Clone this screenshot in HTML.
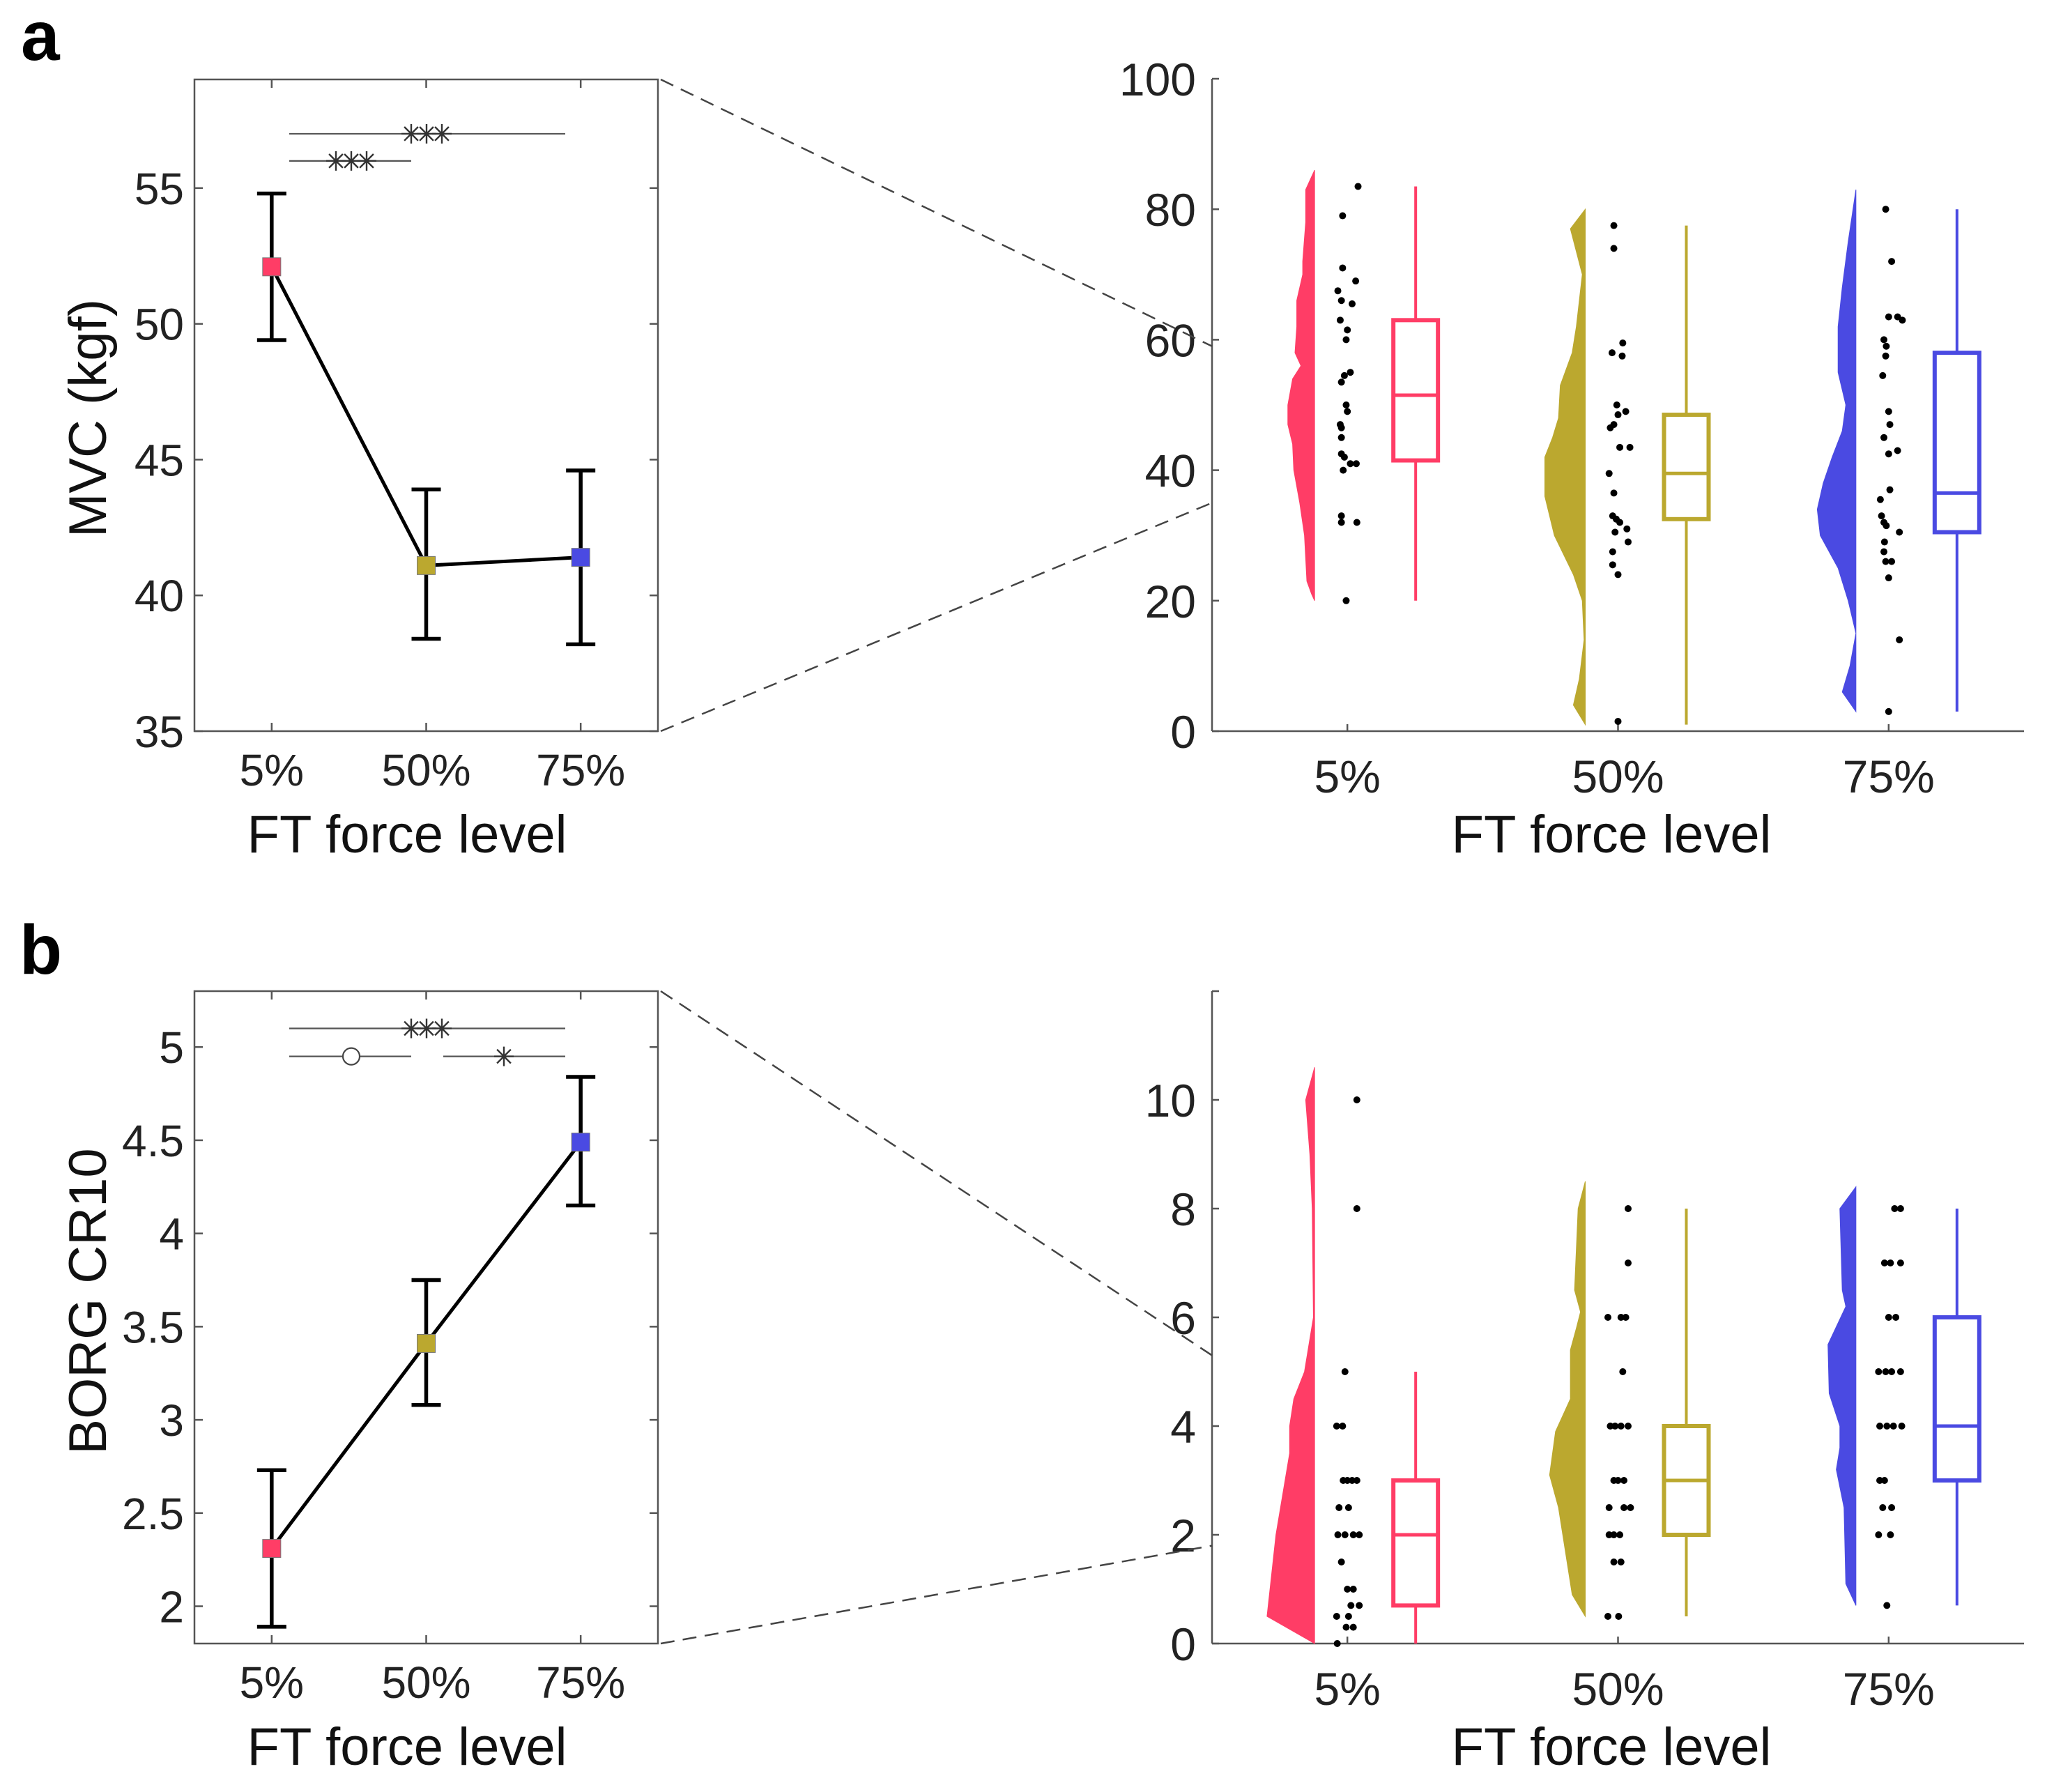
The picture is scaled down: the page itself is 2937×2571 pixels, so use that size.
<!DOCTYPE html>
<html><head><meta charset="utf-8"><style>
html,body{margin:0;padding:0;background:#fff;}
svg{display:block;font-family:"Liberation Sans",Arial,sans-serif;}
</style></head><body>
<svg id="fig" width="2937" height="2571" viewBox="0 0 2937 2571" xmlns="http://www.w3.org/2000/svg"></svg>
<script>
// ---------- data ----------
const categories = ["5%","50%","75%"];
const colors = ["#FF3D66","#BBA82F","#4A4AE2"];
const mvcMean = [52.1, 41.1, 41.4];
const mvcLow = [49.4, 38.4, 38.2];
const mvcHigh = [54.8, 43.9, 44.6];
const mvcTicks = [35,40,45,50,55];
const borgMean = [2.31, 3.41, 4.49];
const borgLow = [1.89, 3.08, 4.15];
const borgHigh = [2.73, 3.75, 4.84];
const borgTicks = [2,2.5,3,3.5,4,4.5,5];
const borgTickLabels = ["2","2.5","3","3.5","4","4.5","5"];
const mvcBox5 = [20, 41.5, 51.5, 63, 83.5];
const mvcBox50 = [1, 32.5, 39.5, 48.5, 77.5];
const mvcBox75 = [3, 30.5, 36.5, 58, 80];
const mvcRightTicks = [0,20,40,60,80,100];
const borgBox5 = [0, 0.7, 2, 3, 5];
const borgBox50 = [0.5, 2, 3, 4, 8];
const borgBox75 = [0.7, 3, 4, 6, 8];
const borgRightTicks = [0,2,4,6,8,10];
const mvcVioLev5 = [20,21,23,30,35,40,44,47,50,54,56,58,62,66,70,72,78,83,86];
const mvcVioDen5 = [0,5,13,17,25,35,37,45,45,37,23,33,30,30,20,20,15,15,0];
const mvcVioLev50 = [1,4,8,14,20,24,30,36,42,45,48,53,58,62,70,77,80];
const mvcVioDen50 = [0,20,10,2,5,20,52,68,68,55,45,42,22,15,5,25,0];
const mvcVioLev75 = [3,6,10,15,20,25,30,34,38,42,46,50,55,62,68,75,83];
const mvcVioDen75 = [0,23,10,0,13,30,60,65,55,40,23,17,30,30,23,13,0];
const borgVioLev5 = [0,0.5,2,3.5,4,4.5,5,5.8,6,7,8,9,10,10.6];
const borgVioDen5 = [0,80,65,42,42,35,17,5,2,3,4,8,15,0];
const borgVioLev50 = [0.5,0.9,2.5,3.1,3.5,3.9,4.5,5.4,5.8,6.1,6.5,8,8.5];
const borgVioDen50 = [0,22,45,60,55,50,25,25,15,8,18,12,0];
const borgVioLev75 = [0.7,1.1,2.5,3.2,3.6,4,4.6,5.5,6.2,6.5,8,8.4];
const borgVioDen75 = [0,17,20,33,27,27,45,47,17,23,27,0];
const mvcPts5 = [83.5,79,71,69,67.5,66,65.5,63,61.5,60,55,54.5,53.5,50,49,47,46.5,45,42.5,42,41,41,40,33,32,32,20];
const mvcJit5 = [18,-8,-8,14,-16,-10,8,-12,0,-2,5,-5,-10,-2,0,-12,-10,-10,-10,-5,5,15,-7,-10,-10,16,-2];
const mvcPts50 = [77.5,74,59.5,58,57.5,50,49,48.5,47,46.5,43.5,43.5,39.5,36.5,33,32.5,32,31,30.5,29,27.5,25.5,24,1.5];
const mvcJit50 = [-7,-7,8,-10,7,-2,13,0,-7,-13,3,20,-15,-7,-9,-3,3,15,-5,17,-9,-9,0,0];
const mvcPts75 = [80,72,63.5,63.5,63,60,59,57.5,54.5,49,47,45,43,42.5,37,35.5,33,32,31.5,30.5,29,27.5,26,26,23.5,14,3];
const mvcJit75 = [-5,5,0,15,23,-8,-4,-5,-10,0,2,-8,15,0,2,-14,-12,-8,-4,18,-7,-8,-5,5,0,18,0];
const borgPts5 = [10,8,5,4,4,3,3,3,3,2.5,2.5,2,2,2,2,1.5,1,1,0.7,0.7,0.5,0.5,0.3,0.3,0];
const borgJit5 = [16,16,-4,-18,-8,-7,0,8,16,-14,2,-16,-4,10,20,-10,0,10,6,20,-18,2,-2,10,-17];
const borgPts50 = [8,7,6,6,6,5,4,4,4,4,3,3,3,2.5,2.5,2.5,2,2,2,1.5,1.5,0.5,0.5];
const borgJit50 = [17,17,-17,5,13,8,-13,-5,5,17,-7,0,10,-15,10,21,-15,-7,3,-7,5,-17,1];
const borgPts75 = [8,8,7,7,7,6,6,5,5,5,5,4,4,4,4,3,3,2.5,2.5,2,2,0.7];
const borgJit75 = [10,20,-7,3,20,0,12,-17,-5,5,20,-15,-3,8,22,-15,-7,-10,5,-17,3,-3];

// ---------- drawing helpers ----------
const NS="http://www.w3.org/2000/svg";
const svg=document.getElementById('fig');
function el(tag,attrs,parent){const e=document.createElementNS(NS,tag);for(const k in attrs)e.setAttribute(k,attrs[k]);(parent||svg).appendChild(e);return e;}
function txt(s,x,y,size,anchor,parent,extra){const t=el('text',Object.assign({x:x,y:y,'font-size':size,'text-anchor':anchor||'middle',fill:'#222'},extra||{}),parent);t.textContent=s;return t;}
function asterisk(g,cx,cy,r){for(let k=0;k<4;k++){const a=k*Math.PI/4;el('line',{x1:cx-r*Math.cos(a),y1:cy-r*Math.sin(a),x2:cx+r*Math.cos(a),y2:cy+r*Math.sin(a),stroke:'#333','stroke-width':2.4},g);}}

function leftPanel(cfg){
  const g=el('g',{});
  
  
  const L=279,R=944,T=cfg.top,B=cfg.bottom;
  const sx=i=>L+(i+0.5)*(R-L)/3;
  const sy=v=>B-(v-cfg.ymin)*(B-T)/(cfg.ymax-cfg.ymin);
  const ax=el('g',{},g);
  
  
  el('rect',{x:L,y:T,width:R-L,height:B-T,fill:'none',stroke:'#555','stroke-width':2.5},ax);
  cfg.ticks.forEach((v,k)=>{const y=sy(v);
    el('line',{x1:L,y1:y,x2:L+12,y2:y,stroke:'#555','stroke-width':2.5},ax);
    el('line',{x1:R,y1:y,x2:R-12,y2:y,stroke:'#555','stroke-width':2.5},ax);
    const t=txt(cfg.tickLabels[k],264,y+23,64,'end',ax);
    
    });
  categories.forEach((c,i)=>{const x=sx(i);
    el('line',{x1:x,y1:B,x2:x,y2:B-12,stroke:'#555','stroke-width':2.5},ax);
    el('line',{x1:x,y1:T,x2:x,y2:T+12,stroke:'#555','stroke-width':2.5},ax);
    const t=txt(c,x,B+78,64,'middle',ax);
    
    });
  const xl=txt('FT force level',584,B+174,76,'middle',g,{fill:'#111'});
  
  
  const yl=txt(cfg.ylabel,0,0,76,'middle',g,{fill:'#111',transform:`translate(152,${cfg.ylabelY}) rotate(-90)`});
  
  
  const sg=el('g',{},g);
  
  
  cfg.sig(sg,sy);
  const pts=cfg.mean.map((m,i)=>sx(i)+','+sy(m)).join(' ');
  const ln=el('polyline',{points:pts,fill:'none',stroke:'#000','stroke-width':5},g);
  
  
  cfg.mean.forEach((m,i)=>{const x=sx(i);
    const eb=el('g',{},g);
    
    
    el('line',{x1:x,y1:sy(cfg.low[i]),x2:x,y2:sy(cfg.high[i]),stroke:'#000','stroke-width':5.5},eb);
    el('line',{x1:x-21,y1:sy(cfg.low[i]),x2:x+21,y2:sy(cfg.low[i]),stroke:'#000','stroke-width':5.5},eb);
    el('line',{x1:x-21,y1:sy(cfg.high[i]),x2:x+21,y2:sy(cfg.high[i]),stroke:'#000','stroke-width':5.5},eb);
    const mk=el('rect',{x:x-13,y:sy(m)-13,width:26,height:26,fill:colors[i],stroke:'#777','stroke-width':1},eb);
    
    });
  return {L,R,T,B,sy};
}

function rightPanel(cfg){
  const g=el('g',{});
  
  
  const L=1739,R=2904,T=cfg.top,B=cfg.bottom;
  const X=i=>L+(i+0.5)*(R-L)/3;
  const Y=v=>B-v*(B-T)/cfg.ymax;
  const ax=el('g',{},g);
  
  
  el('line',{x1:L,y1:T,x2:L,y2:B,stroke:'#555','stroke-width':2.5},ax);
  el('line',{x1:L,y1:B,x2:R,y2:B,stroke:'#555','stroke-width':2.5},ax);
  cfg.ticks.forEach(v=>{const y=Y(v);
    el('line',{x1:L,y1:y,x2:L+10,y2:y,stroke:'#555','stroke-width':2.5},ax);
    const t=txt(String(v),1716,y+24,66,'end',ax);
    
    });
  if(cfg.topTick) el('line',{x1:L,y1:T,x2:L+10,y2:T,stroke:'#555','stroke-width':2.5},ax);
  categories.forEach((c,i)=>{const x=X(i);
    el('line',{x1:x,y1:B,x2:x,y2:B-10,stroke:'#555','stroke-width':2.5},ax);
    const t=txt(c,x,B+88,66,'middle',ax);
    
    });
  const xl=txt('FT force level',2312,B+174,76,'middle',g,{fill:'#111'});
  
  
  const den=0.853;
  categories.forEach((c,i)=>{
    const base=X(i)-47, col=colors[i];
    const lev=cfg.vioLev[i], d=cfg.vioDen[i];
    let p='M'+base+','+Y(lev[0]);
    lev.forEach((v,k)=>{p+=' L'+(base-d[k]*den)+','+Y(v);});
    p+=' L'+base+','+Y(lev[lev.length-1])+' Z';
    const vi=el('path',{d:p,fill:col,stroke:col,'stroke-width':1},g);
    
    
    const dots=el('g',{},g);
    
    
    cfg.pts[i].forEach((v,k)=>{
      const dt=el('circle',{cx:X(i)+cfg.jit[i][k]*0.853,cy:Y(v),r:5,fill:'#000'},dots);
      
      });
    const b=cfg.box[i], bx=X(i)+98;
    const bg=el('g',{},g);
    
    
    el('line',{x1:bx,y1:Y(b[0]),x2:bx,y2:Y(b[1]),stroke:col,'stroke-width':4},bg);
    el('line',{x1:bx,y1:Y(b[3]),x2:bx,y2:Y(b[4]),stroke:col,'stroke-width':4},bg);
    el('rect',{x:bx-32,y:Y(b[3]),width:64,height:Y(b[1])-Y(b[3]),fill:'#fff',stroke:col,'stroke-width':6},bg);
    el('line',{x1:bx-32,y1:Y(b[2]),x2:bx+32,y2:Y(b[2]),stroke:col,'stroke-width':5},bg);
  });
  return {L,Y};
}

function zoomLines(lp,rp,v1,v2,name){
  const g=el('g',{});
  
  
  el('line',{x1:lp.R+4,y1:lp.T,x2:rp.L,y2:rp.Y(v1),stroke:'#444','stroke-width':2.5,'stroke-dasharray':'20 12'},g);
  el('line',{x1:lp.R+4,y1:lp.B,x2:rp.L,y2:rp.Y(v2),stroke:'#444','stroke-width':2.5,'stroke-dasharray':'20 12'},g);
}

// ---------- panel a ----------
const la=txt('a',30,86,100,'start',svg,{'font-weight':'bold',fill:'#000'});


const lpA=leftPanel({name:'mvc-line-chart',top:114,bottom:1049,ymin:35,ymax:59,ticks:mvcTicks,tickLabels:mvcTicks.map(String),
  ylabel:'MVC (kgf)',ylabelY:600,mean:mvcMean,low:mvcLow,high:mvcHigh,
  sig:(g,sy)=>{
    el('line',{x1:415,y1:sy(57),x2:811,y2:sy(57),stroke:'#555','stroke-width':2.2},g);
    el('line',{x1:415,y1:sy(56),x2:590,y2:sy(56),stroke:'#555','stroke-width':2.2},g);
    [590,612,634].forEach(x=>asterisk(g,x,sy(57),14));
    [482,504,526].forEach(x=>asterisk(g,x,sy(56),14));
  }});
const rpA=rightPanel({name:'mvc-raincloud-chart',top:113,bottom:1049,ymax:100,ticks:mvcRightTicks,
  vioLev:[mvcVioLev5,mvcVioLev50,mvcVioLev75],vioDen:[mvcVioDen5,mvcVioDen50,mvcVioDen75],
  pts:[mvcPts5,mvcPts50,mvcPts75],jit:[mvcJit5,mvcJit50,mvcJit75],box:[mvcBox5,mvcBox50,mvcBox75]});
zoomLines(lpA,rpA,59,35,'zoom-lines-a');

// ---------- panel b ----------
const lb=txt('b',28,1397,100,'start',svg,{'font-weight':'bold',fill:'#000'});


const lpB=leftPanel({name:'borg-line-chart',top:1422,bottom:2358,ymin:1.8,ymax:5.3,ticks:borgTicks,tickLabels:borgTickLabels,
  ylabel:'BORG CR10',ylabelY:1867,mean:borgMean,low:borgLow,high:borgHigh,
  sig:(g,sy)=>{
    el('line',{x1:415,y1:sy(5.1),x2:811,y2:sy(5.1),stroke:'#555','stroke-width':2.2},g);
    el('line',{x1:415,y1:sy(4.95),x2:590,y2:sy(4.95),stroke:'#555','stroke-width':2.2},g);
    el('line',{x1:636,y1:sy(4.95),x2:811,y2:sy(4.95),stroke:'#555','stroke-width':2.2},g);
    [590,612,634].forEach(x=>asterisk(g,x,sy(5.1),14));
    el('circle',{cx:504,cy:sy(4.95),r:12,fill:'#fff',stroke:'#444','stroke-width':2.2},g);
    asterisk(g,723,sy(4.95),14);
  }});
const rpB=rightPanel({name:'borg-raincloud-chart',top:1422,bottom:2358,ymax:12,ticks:borgRightTicks,topTick:true,
  vioLev:[borgVioLev5,borgVioLev50,borgVioLev75],vioDen:[borgVioDen5,borgVioDen50,borgVioDen75],
  pts:[borgPts5,borgPts50,borgPts75],jit:[borgJit5,borgJit50,borgJit75],box:[borgBox5,borgBox50,borgBox75]});
zoomLines(lpB,rpB,5.3,1.8,'zoom-lines-b');
</script>
</body></html>
